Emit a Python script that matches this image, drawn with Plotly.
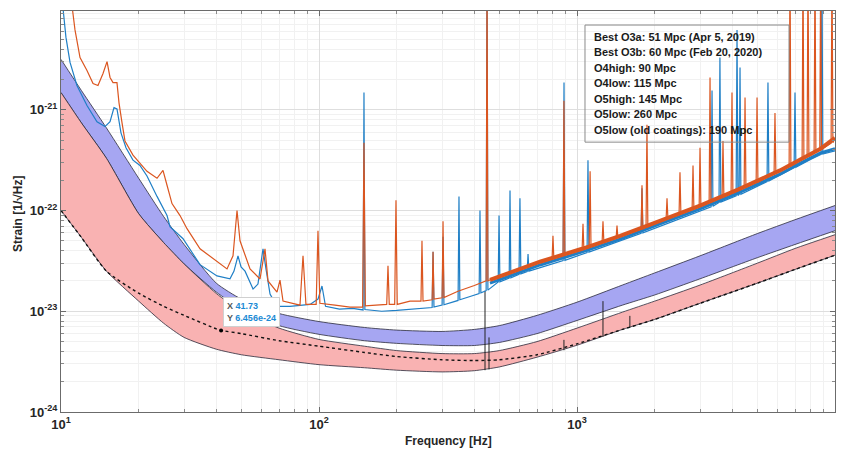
import math
import plotly.graph_objects as go

# ---------------- data ----------------
MODEL_F = [10, 12, 15, 20, 25, 30, 40, 50, 70, 100, 150, 200, 300, 400, 500,
           700, 1000, 1500, 2000, 3000, 5000, 7000, 10000]
O4HIGH = [3.16e-21, 1.55e-21, 6.6e-22, 2.09e-22, 8.7e-23, 4.6e-23, 1.9e-23, 1.32e-23,
          9.5e-24, 7.9e-24, 6.9e-24, 6.5e-24, 6.3e-24, 6.6e-24, 7.2e-24, 9.1e-24,
          1.23e-23, 1.82e-23, 2.4e-23, 3.55e-23, 5.9e-23, 8.1e-23, 1.12e-22]
O4LOW = [1.48e-21, 7.4e-22, 3.3e-22, 9.3e-23, 4.8e-23, 2.95e-23, 1.55e-23, 1.05e-23,
         7.2e-24, 5.9e-24, 5.1e-24, 4.8e-24, 4.57e-24, 4.57e-24, 4.9e-24, 6.0e-24,
         8.1e-24, 1.15e-23, 1.45e-23, 2.1e-23, 3.4e-23, 4.6e-23, 6.3e-23]
O5HIGH = [1.48e-21, 7.4e-22, 3.3e-22, 9.3e-23, 4.8e-23, 2.95e-23, 1.5e-23, 1.0e-23,
          6.8e-24, 5.25e-24, 4.5e-24, 4.07e-24, 3.8e-24, 3.8e-24, 4.07e-24, 5.0e-24,
          6.8e-24, 9.8e-24, 1.26e-23, 1.82e-23, 3.0e-23, 4.2e-23, 5.75e-23]
O5LOW = [1.0e-22, 5.4e-23, 2.5e-23, 1.26e-23, 7.6e-24, 5.5e-24, 4.2e-24, 3.7e-24,
         3.3e-24, 2.95e-24, 2.75e-24, 2.6e-24, 2.5e-24, 2.57e-24, 2.8e-24, 3.5e-24,
         4.6e-24, 6.6e-24, 8.3e-24, 1.2e-23, 1.9e-23, 2.6e-23, 3.6e-23]

OLD_F = [10, 12, 15, 20, 25, 30, 40, 41.73, 50, 70, 100, 150, 200, 300, 400, 500,
         700, 1000, 1500, 2000, 3000, 5000, 7000, 10000]
OLD_H = [1.0e-22, 5.4e-23, 2.5e-23, 1.51e-23, 1.12e-23, 9.1e-24, 6.68e-24, 6.456e-24,
         6.0e-24, 5.1e-24, 4.5e-24, 3.9e-24, 3.55e-24, 3.3e-24, 3.24e-24, 3.3e-24,
         3.7e-24, 4.75e-24, 6.6e-24, 8.3e-24, 1.2e-23, 1.9e-23, 2.6e-23, 3.6e-23]

# short calibration lines on the O5 curves
CAL_F = [440, 456, 890, 1261, 1603]
CAL_LO = [2.6e-24, 2.65e-24, 4.1e-24, 5.6e-24, 6.9e-24]
CAL_HI = [1.6e-23, 5.5e-24, 5.2e-24, 1.26e-23, 9.0e-24]

BLUE_PTS = [
    (10.0, 2.0e-20), (10.18, 1.02e-20), (10.45, 5.25e-21), (10.84, 2.95e-21),
    (11.53, 1.74e-21), (12.61, 1.10e-21), (13.79, 7.6e-22), (14.81, 6.8e-22),
    (15.49, 7.6e-22), (16.05, 1.05e-21), (16.48, 1.02e-21), (17.08, 5.9e-22),
    (17.86, 4.2e-22), (19.01, 3.16e-22), (20.23, 2.8e-22), (21.54, 2.2e-22),
    (23.56, 1.38e-22), (25.76, 8.9e-23), (26.45, 6.9e-23), (29.72, 5.25e-23),
    (34.58, 2.9e-23), (40.24, 2.24e-23), (45.19, 2.1e-23), (46.83, 2.5e-23),
    (48.53, 3.55e-23), (49.87, 2.75e-23), (51.68, 2.5e-23), (55.5, 1.66e-23),
    (58.0, 1.86e-23), (60.67, 4.17e-23), (62.3, 2.63e-23), (64.6, 1.48e-23),
    (68.7, 1.12e-23), (77.2, 1.12e-23), (92.3, 1.17e-23), (99.1, 1.32e-23),
    (102.7, 1.78e-23), (106, 1.12e-23), (120, 1.05e-23), (135, 1.07e-23),
    (148.2, 1.03e-23), (149.4, 1.48e-21), (150.6, 1.04e-23),
    (175, 1.0e-23), (200, 1.02e-23), (225, 1.05e-23), (250, 1.07e-23),
    (274.5, 1.09e-23), (276.7, 3.9e-23), (279, 1.1e-23),
    (300, 1.15e-23), (302.5, 5.5e-23), (305, 1.16e-23), (340, 1.26e-23),
    (346, 1.28e-23), (348.8, 1.38e-22), (351.5, 1.3e-23), (385, 1.4e-23),
    (417.5, 1.5e-23), (420.7, 1.0e-22), (424, 1.52e-23),
    (444.5, 1.6e-23), (448, 3e-20), (451.5, 1.62e-23),
    (495, 1.95e-23), (498.7, 8.9e-23), (502.5, 1.96e-23),
    (546, 2.13e-23), (550, 1.58e-22), (554, 2.15e-23),
    (596, 2.33e-23), (601, 1.32e-22), (606, 2.35e-23),
    (641, 2.48e-23), (646, 3.7e-23), (651, 2.5e-23),
    (883.5, 3.18e-23), (890.5, 1.86e-21), (897.5, 3.2e-23),
    (1094, 3.83e-23), (1103, 3.16e-22), (1112, 3.86e-23),
    (1772, 5.95e-23), (1786, 1.66e-22), (1800, 6.0e-23),
    (3310, 1.09e-22), (3337, 1.55e-21), (3364, 1.1e-22),
    (3552, 1.2e-22), (3581, 3.3e-21), (3610, 1.21e-22),
    (4138, 1.4e-22), (4171, 6.2e-21), (4204, 1.41e-22),
    (4250, 1.44e-22), (4284, 2.63e-21), (4318, 1.45e-22),
    (5454, 1.94e-22), (5498, 1.86e-21), (5542, 1.96e-22),
    (6942, 2.66e-22), (6998, 1.48e-21), (7054, 2.69e-22),
    (8000, 3.2e-22),
    (8830, 3.6e-22), (8900, 3e-20), (8970, 3.64e-22),
    (10000, 3.9e-22),
]

ORANGE_PTS = [
    (10.5, 3e-20), (11.03, 1.02e-20), (11.33, 6.2e-21), (11.85, 3.3e-21),
    (12.61, 2.45e-21), (13.31, 1.82e-21), (13.91, 1.74e-21), (14.55, 2.29e-21),
    (15.08, 3.0e-21), (15.49, 2.09e-21), (15.91, 1.86e-21), (16.48, 1.86e-21),
    (16.78, 1.17e-21), (17.24, 7.4e-22), (17.70, 4.9e-22), (19.01, 3.55e-22),
    (21.54, 2.45e-22), (23.56, 2.09e-22), (24.85, 2.5e-22), (25.76, 1.78e-22),
    (26.93, 1.17e-22), (28.93, 8.9e-23), (30.79, 6.6e-23), (34.58, 4.17e-23),
    (40.24, 3.1e-23), (44.0, 2.63e-23), (46.42, 3.55e-23), (48.11, 1.0e-22),
    (49.41, 5.0e-23), (50.75, 4.17e-23), (54.03, 2.63e-23), (59.07, 2.09e-23),
    (61.76, 4.17e-23), (63.44, 2.0e-23), (68.74, 1.55e-23), (70.6, 2.04e-23),
    (72.53, 1.26e-23), (84.4, 1.15e-23), (86.7, 3.55e-23), (89.0, 1.17e-23),
    (97.5, 1.17e-23), (99.1, 6.3e-23), (100.8, 1.2e-23), (115.3, 1.15e-23),
    (131.9, 1.10e-23), (147.6, 1.10e-23), (149.4, 4.7e-22), (151.2, 1.13e-23),
    (172.4, 1.17e-23), (183, 1.17e-23), (185.1, 2.82e-23), (187.2, 1.17e-23),
    (196.5, 1.17e-23), (198.8, 1.26e-22), (201, 1.17e-23), (225.3, 1.26e-23),
    (248.5, 1.26e-23), (250.7, 5.0e-23), (253, 1.26e-23),
    (274.5, 1.3e-23), (276.7, 3.9e-23), (279, 1.32e-23),
    (300, 1.36e-23), (302.5, 7.8e-23), (305, 1.37e-23),
    (345.7, 1.58e-23), (400, 1.8e-23),
    (444.5, 2.0e-23), (448, 3e-20), (451.5, 2.0e-23),
    (500, 2.25e-23), (600, 2.6e-23), (719, 3.1e-23),
    (801, 3.4e-23), (807, 5.6e-23), (813, 3.42e-23),
    (883, 3.7e-23), (890, 1.23e-21), (897, 3.72e-23),
    (1047, 4.17e-23), (1055, 7.4e-23), (1063, 4.2e-23),
    (1115, 4.35e-23), (1124, 2.45e-22), (1133, 4.4e-23),
    (1251, 4.8e-23), (1261, 7.8e-23), (1271, 4.85e-23),
    (1418, 5.35e-23), (1429, 7.1e-23), (1440, 5.4e-23),
    (1772, 6.55e-23), (1786, 1.78e-22), (1800, 6.6e-23),
    (1852, 6.85e-23), (1867, 7.1e-22), (1882, 6.9e-23),
    (2215, 8.25e-23), (2233, 1.32e-22), (2251, 8.3e-23),
    (2487, 9.3e-23), (2507, 2.4e-22), (2527, 9.4e-23),
    (2794, 1.04e-22), (2816, 2.8e-22), (2838, 1.05e-22),
    (2975, 1.1e-22), (2998, 4.2e-22), (3021, 1.12e-22),
    (3252, 1.2e-22), (3278, 2.09e-21), (3304, 1.21e-22),
    (3651, 1.36e-22), (3680, 4.9e-22), (3709, 1.37e-22),
    (3956, 1.48e-22), (3988, 1.48e-21), (4020, 1.49e-22),
    (4444, 1.69e-22), (4480, 1.32e-21), (4516, 1.7e-22),
    (4947, 1.9e-22), (4987, 1.32e-21), (5027, 1.91e-22),
    (5806, 2.33e-22), (5853, 9.3e-22), (5900, 2.35e-22),
    (6640, 2.75e-22), (6693, 3e-20), (6746, 2.77e-22),
    (7456, 3.22e-22), (7516, 3e-20), (7576, 3.25e-22),
    (7796, 3.42e-22), (7859, 3e-20), (7922, 3.45e-22),
    (8298, 3.72e-22), (8365, 3e-20), (8432, 3.76e-22),
    (8730, 3.98e-22), (8800, 3e-20), (8870, 4.02e-22),
    (9658, 4.65e-22), (9736, 3e-20), (9814, 4.7e-22),
    (10000, 5.25e-22),
]

# dense "grass" band of the measured spectra at high frequency
FUZZ_F = [460, 719, 1047, 1470, 2097, 2998, 4226, 6121, 7250, 8749, 10000]
ORANGE_FUZZ = [2.05e-23, 3.1e-23, 4.17e-23, 5.6e-23, 7.9e-23, 1.12e-22,
               1.62e-22, 2.5e-22, 3.16e-22, 4.07e-22, 5.25e-22]
BLUE_FUZZ = [1.9e-23, 2.88e-23, 3.88e-23, 5.2e-23, 7.35e-23, 1.04e-22,
             1.5e-22, 2.3e-22, 2.9e-22, 3.7e-22, 4.1e-22]

X_TICKS = [10, 100, 1000, 10000]
X_TICK_TEXT = ["<b>10<sup>1</sup></b>", "<b>10<sup>2</sup></b>",
               "<b>10<sup>3</sup></b>", "<b>10<sup>4</sup></b>"]
Y_TICKS = [1e-24, 1e-23, 1e-22, 1e-21]
Y_TICK_TEXT = ["<b>10<sup>-24</sup></b>", "<b>10<sup>-23</sup></b>",
               "<b>10<sup>-22</sup></b>", "<b>10<sup>-21</sup></b>"]

LEGEND_LINES = [
    "Best O3a: 51 Mpc (Apr 5, 2019)",
    "Best O3b: 60 Mpc (Feb 20, 2020)",
    "O4high: 90 Mpc",
    "O4low: 115 Mpc",
    "O5high: 145 Mpc",
    "O5low: 260 Mpc",
    "O5low (old coatings): 190 Mpc",
]
TIP_X = 41.73
TIP_Y = 6.456e-24

# ---------------- styles ----------------
FONT = "Liberation Sans, Arial, sans-serif"
BLUE = "#1f7fc6"
ORANGE = "#db5620"
BAND_BLUE = "rgb(166,166,242)"
BAND_RED = "rgb(249,178,178)"
EDGE = "#2b2b3b"
SMOOTH = dict(shape="spline", smoothing=0.6)

fig = go.Figure()

# O4 band
fig.add_trace(go.Scatter(x=MODEL_F, y=O4LOW, mode="lines",
                         line=dict(color=EDGE, width=0.8, **SMOOTH), showlegend=False))
fig.add_trace(go.Scatter(x=MODEL_F, y=O4HIGH, mode="lines", fill="tonexty",
                         fillcolor=BAND_BLUE, line=dict(color=EDGE, width=0.8, **SMOOTH),
                         showlegend=False))
# O5 band
fig.add_trace(go.Scatter(x=MODEL_F, y=O5LOW, mode="lines",
                         line=dict(color=EDGE, width=0.8, **SMOOTH), showlegend=False))
fig.add_trace(go.Scatter(x=MODEL_F, y=O5HIGH, mode="lines", fill="tonexty",
                         fillcolor=BAND_RED, line=dict(color=EDGE, width=0.8, **SMOOTH),
                         showlegend=False))
# old coatings
fig.add_trace(go.Scatter(x=OLD_F, y=OLD_H, mode="lines",
                         line=dict(color="#111", width=1.4, dash="dot", **SMOOTH),
                         showlegend=False))
# calibration lines
cx, cy = [], []
for f, lo, hi in zip(CAL_F, CAL_LO, CAL_HI):
    cx += [f, f, None]
    cy += [lo, hi, None]
fig.add_trace(go.Scatter(x=cx, y=cy, mode="lines",
                         line=dict(color="#222", width=1), showlegend=False))

# measured spectra
fig.add_trace(go.Scatter(x=FUZZ_F, y=BLUE_FUZZ, mode="lines",
                         line=dict(color=BLUE, width=3), showlegend=False))
fig.add_trace(go.Scatter(x=[p[0] for p in BLUE_PTS], y=[p[1] for p in BLUE_PTS],
                         mode="lines", line=dict(color=BLUE, width=1.2),
                         name="Best O3a", showlegend=False))
fig.add_trace(go.Scatter(x=FUZZ_F, y=ORANGE_FUZZ, mode="lines",
                         line=dict(color=ORANGE, width=4), showlegend=False))
fig.add_trace(go.Scatter(x=[p[0] for p in ORANGE_PTS], y=[p[1] for p in ORANGE_PTS],
                         mode="lines", line=dict(color=ORANGE, width=1.2),
                         name="Best O3b", showlegend=False))

# datatip marker
fig.add_trace(go.Scatter(x=[TIP_X], y=[TIP_Y], mode="markers",
                         marker=dict(color="black", size=4), showlegend=False))

fig.add_annotation(x=math.log10(TIP_X), y=math.log10(TIP_Y), xref="x", yref="y",
                   text=("<span style='color:#555'>X</span> <span style='color:#1a8ad4'>%.2f</span><br>"
                         "<span style='color:#555'>Y</span> <span style='color:#1a8ad4'>%.3fe-24</span>")
                        % (TIP_X, TIP_Y * 1e24),
                   showarrow=False, xanchor="left", yanchor="bottom", align="left",
                   xshift=2, yshift=3, bgcolor="white", bordercolor="#d0d0d0",
                   borderwidth=1, borderpad=3,
                   font=dict(family=FONT, size=9, weight="bold"))

# legend box (text box)
fig.add_shape(type="rect", xref="paper", yref="paper", x0=0.677, x1=0.9406,
              y0=0.673, y1=0.965, line=dict(color="#8a8a8a", width=1),
              fillcolor="rgba(0,0,0,0)")
ys = [0.9352, 0.8978, 0.8579, 0.8204, 0.7805, 0.7431, 0.7032]
for txt, yy in zip(LEGEND_LINES, ys):
    fig.add_annotation(x=0.686, y=yy, xref="paper", yref="paper", text=txt,
                       showarrow=False, xanchor="left", yanchor="middle",
                       font=dict(family=FONT, size=11, color="#1a1a1a", weight="bold"))

# axis titles
fig.add_annotation(x=0.5, y=-0.0723, xref="paper", yref="paper", text="Frequency [Hz]",
                   showarrow=False, xanchor="center", yanchor="middle",
                   font=dict(family=FONT, size=12, color="#262626", weight="bold"))
fig.add_annotation(x=-0.0556, y=0.496, xref="paper", yref="paper", text="Strain [1/\u221aHz]",
                   showarrow=False, textangle=-90, xanchor="center", yanchor="middle",
                   font=dict(family=FONT, size=12, color="#262626", weight="bold"))

axis_common = dict(
    type="log", showline=True, linecolor="#6b6b6b", linewidth=1, mirror="allticks",
    ticks="inside", ticklen=5, tickcolor="#6b6b6b", automargin=False,
    showgrid=True, gridcolor="#dedede", gridwidth=1,
    tickfont=dict(family=FONT, size=13, color="#262626"),
    minor=dict(ticks="inside", ticklen=3, tickcolor="#8a8a8a", showgrid=True,
               gridcolor="#f1f1f1", dtick="D1"),
    zeroline=False,
)
fig.update_xaxes(range=[1, 4], tickvals=X_TICKS, ticktext=X_TICK_TEXT, **axis_common)
fig.update_yaxes(range=[-24, -20.02], tickvals=Y_TICKS, ticktext=Y_TICK_TEXT,
                 **axis_common)

# the page body adds an 8 px margin, so the figure is 8 px smaller and margins shifted
fig.update_layout(width=836, height=446, margin=dict(l=53, r=9, t=3, b=42),
                  plot_bgcolor="white", paper_bgcolor="white", showlegend=False,
                  font=dict(family=FONT))

fig.write_html("out.html")
